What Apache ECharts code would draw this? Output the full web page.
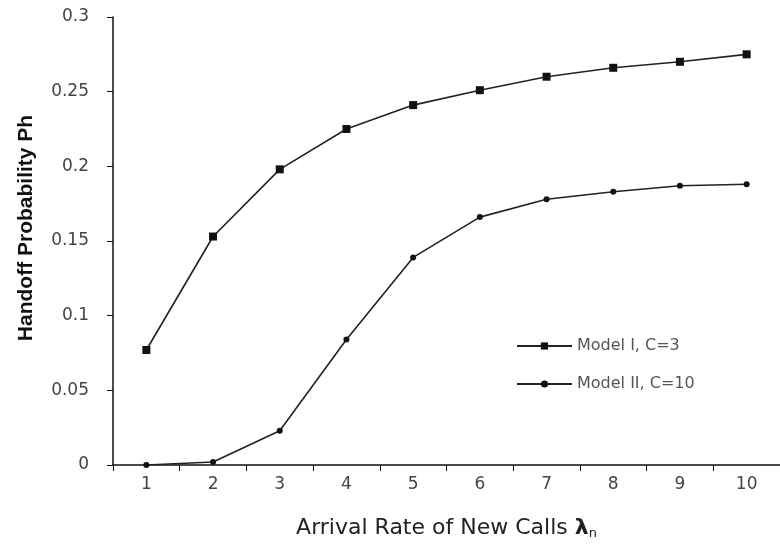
<!DOCTYPE html>
<html>
<head>
<meta charset="utf-8">
<script src="https://cdn.jsdelivr.net/npm/echarts@6/dist/echarts.min.js"></script>
<style>
  html, body { margin: 0; padding: 0; background: #fff; }
  #chart { width: 780px; height: 549px; }
</style>
</head>
<body>
<div id="chart"></div>
<script>
// 横轴类别
const categories = ['1', '2', '3', '4', '5', '6', '7', '8', '9', '10'];
// Model I, C=3
const modelOne = [0.077, 0.153, 0.198, 0.225, 0.241, 0.251, 0.260, 0.266, 0.270, 0.275];
// Model II, C=10
const modelTwo = [0.000, 0.002, 0.023, 0.084, 0.139, 0.166, 0.178, 0.183, 0.187, 0.188];

const chart = echarts.init(document.getElementById('chart'));
const font = 'DejaVu Sans, sans-serif';

const options = {
  animation: false,
  textStyle: { fontFamily: font },
  grid: { left: 113, right: -3, top: 17, bottom: 84 },
  legend: {
    orient: 'vertical',
    left: 511,
    top: 333,
    itemWidth: 55,
    itemHeight: 9,
    itemGap: 22,
    textStyle: { fontSize: 16, color: '#555', fontFamily: font },
    data: ['Model I, C=3', 'Model II, C=10']
  },
  xAxis: {
    type: 'category',
    data: categories,
    boundaryGap: true,
    name: 'Arrival Rate of New Calls {l|λ}{s|n}',
    nameLocation: 'middle',
    nameGap: 52,
    nameTextStyle: {
      fontSize: 22, color: '#222', fontFamily: font,
      rich: {
        l: { fontSize: 22, fontWeight: 'bold', color: '#222', fontFamily: font },
        s: { fontSize: 13, color: '#222', fontFamily: font, verticalAlign: 'bottom', padding: [10, 0, 0, 0] }
      }
    },
    axisLine: { lineStyle: { color: '#111', width: 1.5 } },
    axisTick: { show: true, length: 6, inside: false, lineStyle: { color: '#111' } },
    axisLabel: { fontSize: 17, color: '#444', margin: 11 },
    splitLine: { show: false }
  },
  yAxis: {
    type: 'value',
    min: 0,
    max: 0.3,
    interval: 0.05,
    name: 'Handoff Probability Ph',
    nameLocation: 'middle',
    nameGap: 76,
    nameTextStyle: {
      fontSize: 21, fontWeight: 'bold', color: '#111',
      fontFamily: 'Liberation Sans, Arial, sans-serif',
      padding: [0, 0, 0, 26]
    },
    axisLine: { show: true, lineStyle: { color: '#111', width: 1.5 } },
    axisTick: { show: true, length: 6, lineStyle: { color: '#111' } },
    axisLabel: { fontSize: 17, color: '#444', margin: 24 },
    splitLine: { show: false }
  },
  series: [
    {
      name: 'Model I, C=3',
      type: 'line',
      data: modelOne,
      symbol: 'rect',
      symbolSize: 8,
      itemStyle: { color: '#111' },
      lineStyle: { color: '#222', width: 1.6 }
    },
    {
      name: 'Model II, C=10',
      type: 'line',
      data: modelTwo,
      symbol: 'circle',
      symbolSize: 6,
      itemStyle: { color: '#111' },
      lineStyle: { color: '#222', width: 1.6 }
    }
  ]
};

chart.setOption(options);
</script>
</body>
</html>
